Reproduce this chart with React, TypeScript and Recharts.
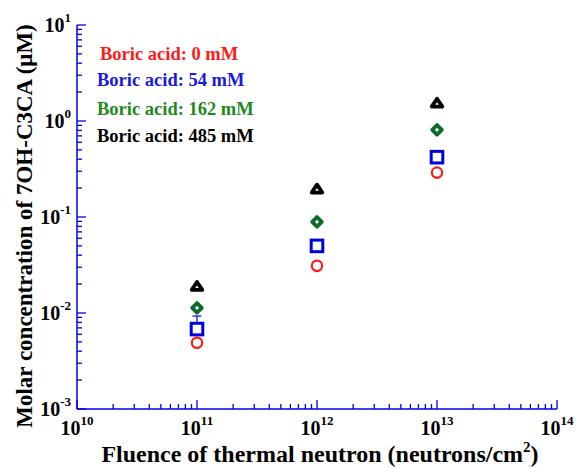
import { ScatterChart, Scatter, XAxis, YAxis, ErrorBar } from "recharts";

// ── Data ─────────────────────────────────────────────────────────────────────
const FLUENCE = [1e11, 1e12, 1e13];
const CONC_0MM = [0.0049, 0.031, 0.29];
const CONC_54MM = [0.0068, 0.05, 0.42];
const CONC_162MM = [0.0113, 0.089, 0.81];
const CONC_485MM = [0.019, 0.196, 1.54];
const ERR_54MM_UP = [0.0025, 0, 0];

const X_MAJOR = [1e10, 1e11, 1e12, 1e13, 1e14];
const Y_MAJOR = [1e-3, 1e-2, 1e-1, 1, 10];

const LEGEND_LABELS = [
  "Boric acid: 0 mM",
  "Boric acid: 54 mM",
  "Boric acid: 162 mM",
  "Boric acid: 485 mM",
];

const AXIS = "#0000ee";
const FONT = '"Liberation Serif", "Times New Roman", serif';
const W = 578;
const H = 468;

const withMinors = (majors: number[]) => {
  const out: number[] = [];
  majors.forEach((m, i) => {
    out.push(m);
    if (i < majors.length - 1) for (let k = 2; k <= 9; k++) out.push(k * m);
  });
  return out;
};
const X_TICKS = withMinors(X_MAJOR);
const Y_TICKS = withMinors(Y_MAJOR);

const isMajor = (v: number) => {
  const l = Math.log10(v);
  return Math.abs(l - Math.round(l)) < 1e-6;
};
const expOf = (v: number) => Math.round(Math.log10(v));

const rows = (ys: number[], errs?: number[]) =>
  FLUENCE.map((x, i) => ({ x, y: ys[i], err: [0, errs ? errs[i] : 0] }));

// ── Markers ──────────────────────────────────────────────────────────────────
const CircleMark = ({ cx, cy }: any) => (
  <circle cx={cx} cy={cy} r={5.2} fill="#fff" stroke="#ff1a1a" strokeWidth={2.2} />
);
const SquareMark = ({ cx, cy }: any) => (
  <rect x={cx - 5.8} y={cy - 5.8} width={11.6} height={11.6} fill="#fff" stroke="#0000dd" strokeWidth={3} />
);
const DiamondMark = ({ cx, cy }: any) => (
  <polygon
    points={`${cx},${cy - 4.8} ${cx + 4.8},${cy} ${cx},${cy + 4.8} ${cx - 4.8},${cy}`}
    fill="#fff"
    stroke="#0d6b2a"
    strokeWidth={3.8}
    strokeLinejoin="round"
  />
);
const TriangleMark = ({ cx, cy }: any) => (
  <polygon
    points={`${cx},${cy - 4.3} ${cx + 5.3},${cy + 3.6} ${cx - 5.3},${cy + 3.6}`}
    fill="#fff"
    stroke="#000"
    strokeWidth={3.8}
    strokeLinejoin="round"
  />
);

const SERIES = [
  { name: "0mM", data: rows(CONC_0MM), shape: CircleMark, color: "#ff1a1a" },
  { name: "54mM", data: rows(CONC_54MM, ERR_54MM_UP), shape: SquareMark, color: "#1a1ae0" },
  { name: "162mM", data: rows(CONC_162MM), shape: DiamondMark, color: "#1f8a1f" },
  { name: "485mM", data: rows(CONC_485MM), shape: TriangleMark, color: "#000" },
];

// ── Ticks (inward, with minor ticks) ─────────────────────────────────────────
const tickLen = (v: number) => (isMajor(v) ? 9 : 5);

const BottomTick = ({ x, y, payload }: any) => {
  const v = payload.value;
  return (
    <g>
      <line x1={x} x2={x} y1={y} y2={y - tickLen(v)} stroke={AXIS} strokeWidth={1.3} />
      {isMajor(v) && (
        <text x={x} y={y + 26} textAnchor="middle" fontFamily={FONT} fontWeight="bold" fontSize={20} fill="#000">
          10
          <tspan dy={-10} fontSize={13}>{expOf(v)}</tspan>
        </text>
      )}
    </g>
  );
};

const TopTick = ({ x, y, payload }: any) => (
  <line x1={x} x2={x} y1={y} y2={y + tickLen(payload.value)} stroke={AXIS} strokeWidth={1.3} />
);

const LeftTick = ({ x, y, payload }: any) => {
  const v = payload.value;
  return (
    <g>
      <line x1={x} x2={x + tickLen(v)} y1={y} y2={y} stroke={AXIS} strokeWidth={1.3} />
      {isMajor(v) && (
        <text x={x - 6} y={y + 7} textAnchor="end" fontFamily={FONT} fontWeight="bold" fontSize={20} fill="#000">
          10
          <tspan dy={-10} fontSize={13}>{expOf(v)}</tspan>
        </text>
      )}
    </g>
  );
};

const RightTick = ({ x, y, payload }: any) => (
  <line x1={x} x2={x - tickLen(payload.value)} y1={y} y2={y} stroke={AXIS} strokeWidth={1.3} />
);

// ── Axis titles ──────────────────────────────────────────────────────────────
const XTitle = ({ viewBox }: any) => (
  <text
    x={viewBox.x + viewBox.width / 2 + 3}
    y={viewBox.y + 53}
    textAnchor="middle"
    fontFamily={FONT}
    fontWeight="bold"
    fontSize={24}
    fill="#000"
  >
    Fluence of thermal neutron (neutrons/cm
    <tspan dy={-10} fontSize={15}>2</tspan>
    <tspan dy={10}>)</tspan>
  </text>
);

const YTitle = ({ viewBox }: any) => {
  const cx = 32;
  const cy = viewBox.y + viewBox.height / 2 + 9;
  return (
    <text
      x={cx}
      y={cy}
      transform={`rotate(-90 ${cx} ${cy})`}
      textAnchor="middle"
      fontFamily={FONT}
      fontWeight="bold"
      fontSize={23}
      fill="#000"
    >
      Molar concentration of 7OH-C3CA (μM)
    </text>
  );
};

// ── Chart ────────────────────────────────────────────────────────────────────
export default function App() {
  return (
    <div style={{ position: "absolute", left: 0, top: 0, width: W, height: H, background: "#fff" }}>
      <ScatterChart width={W} height={H} margin={{ top: 25, right: 21, bottom: 0, left: 0 }}>
        <XAxis
          xAxisId="b"
          dataKey="x"
          type="number"
          scale="log"
          domain={[1e10, 1e14]}
          allowDataOverflow
          ticks={X_TICKS}
          interval={0}
          height={59}
          tickSize={0}
          tickMargin={0}
          tickLine={false}
          axisLine={{ stroke: AXIS, strokeWidth: 1.5 }}
          tick={BottomTick}
          label={XTitle}
        />
        <XAxis
          xAxisId="t"
          orientation="top"
          dataKey="x"
          type="number"
          scale="log"
          domain={[1e10, 1e14]}
          allowDataOverflow
          ticks={X_TICKS}
          interval={0}
          height={0}
          tickSize={0}
          tickMargin={0}
          tickLine={false}
          axisLine={{ stroke: AXIS, strokeWidth: 1.5 }}
          tick={TopTick}
        />
        <YAxis
          yAxisId="l"
          dataKey="y"
          type="number"
          scale="log"
          domain={[1e-3, 10]}
          allowDataOverflow
          ticks={Y_TICKS}
          interval={0}
          width={77}
          tickSize={0}
          tickMargin={0}
          tickLine={false}
          axisLine={{ stroke: AXIS, strokeWidth: 1.5 }}
          tick={LeftTick}
          label={YTitle}
        />
        <YAxis
          yAxisId="r"
          orientation="right"
          dataKey="y"
          type="number"
          scale="log"
          domain={[1e-3, 10]}
          allowDataOverflow
          ticks={Y_TICKS}
          interval={0}
          width={0}
          tickSize={0}
          tickMargin={0}
          tickLine={false}
          axisLine={{ stroke: AXIS, strokeWidth: 1.5 }}
          tick={RightTick}
        />
        {SERIES.map((s) => (
          <Scatter
            key={s.name}
            name={s.name}
            data={s.data}
            xAxisId="b"
            yAxisId="l"
            shape={s.shape}
            isAnimationActive={false}
          >
            {s.name === "54mM" && (
              <ErrorBar dataKey="err" direction="y" width={4.5} stroke="#0000dd" strokeWidth={1.2} />
            )}
          </Scatter>
        ))}
      </ScatterChart>
      <svg width={W} height={H} style={{ position: "absolute", left: 0, top: 0, pointerEvents: "none" }}>
        {SERIES.map((s, i) => (
          <text
            key={s.name}
            x={i === 0 ? 100 : 97}
            y={[60, 86, 115, 142][i]}
            fontFamily={FONT}
            fontWeight="bold"
            fontSize={18.5}
            fill={s.color}
          >
            {LEGEND_LABELS[i]}
          </text>
        ))}
      </svg>
    </div>
  );
}
